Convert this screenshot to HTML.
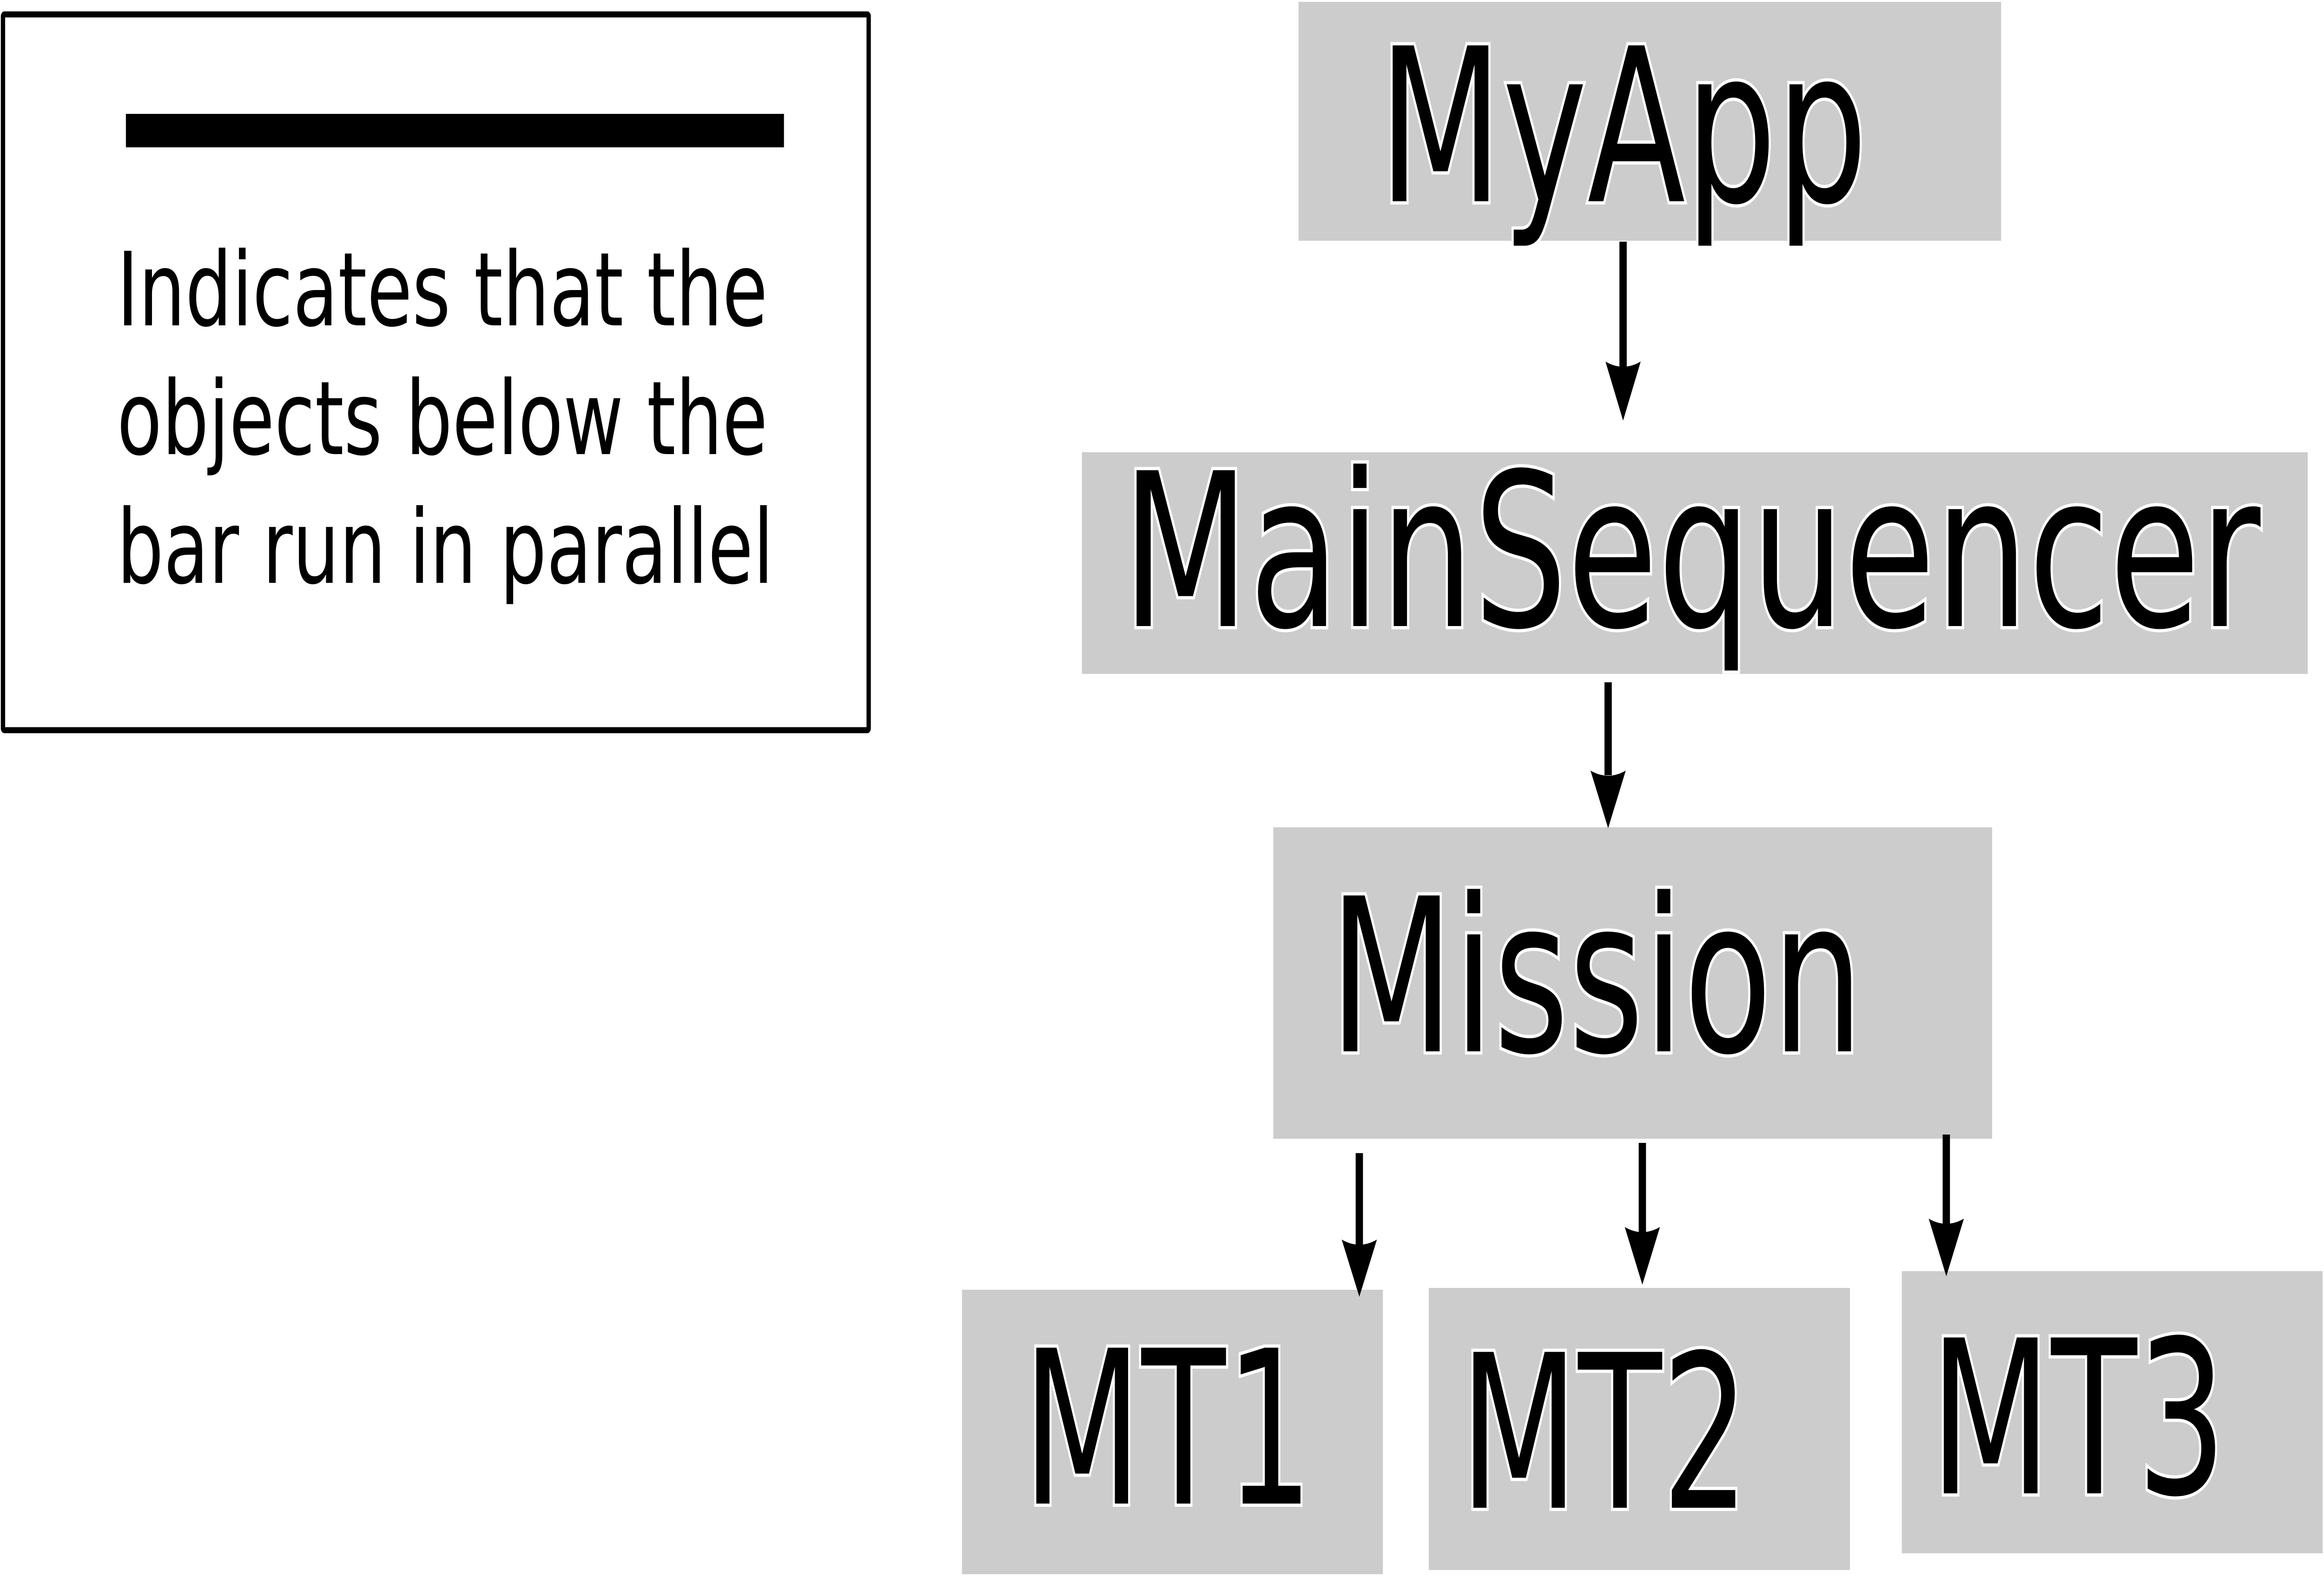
<!DOCTYPE html>
<html><head><meta charset="utf-8"><style>html,body{margin:0;padding:0;background:#fff;overflow:hidden;width:100%;height:100%}svg{display:block;width:100vw;height:100vh}</style></head>
<body>
<svg viewBox="0 0 6996 3393" preserveAspectRatio="none" xmlns="http://www.w3.org/2000/svg">
<rect x="0" y="0" width="6996" height="3393" fill="#fff"/>
<rect x="9" y="31" width="2606" height="1540" fill="#fff" stroke="#000" stroke-width="13" rx="4"/>
<rect x="379" y="245" width="1981" height="72" fill="#000"/>
<g font-family="'DejaVu Sans','Liberation Sans',sans-serif" font-size="220" fill="#000">
<text x="352" y="700" textLength="1959" lengthAdjust="spacingAndGlyphs">Indicates that the</text>
<text x="352" y="977" textLength="1959" lengthAdjust="spacingAndGlyphs">objects below the</text>
<text x="352" y="1254" textLength="1977" lengthAdjust="spacingAndGlyphs">bar run in parallel</text>
</g>
<g fill="#cccccc">
<rect x="3909" y="4" width="2115" height="514"/>
<rect x="3257" y="973" width="3690" height="477"/>
<rect x="3833" y="1780" width="2164" height="670"/>
<rect x="2896" y="2775" width="1267" height="612"/>
<rect x="4301" y="2771" width="1268" height="607"/>
<rect x="5725" y="2735" width="1267" height="607"/>
</g>
<g font-family="'DejaVu Sans','Liberation Sans',sans-serif" font-size="460" fill="#000" stroke="#fff" stroke-width="14" paint-order="stroke">
<text x="4150" y="433" textLength="1472" lengthAdjust="spacingAndGlyphs">MyApp</text>
<text x="3378" y="1347" textLength="3427" lengthAdjust="spacingAndGlyphs">MainSequencer</text>
<text x="4002" y="2262" textLength="1607" lengthAdjust="spacingAndGlyphs">Mission</text>
<text x="3079" y="3235" textLength="874" lengthAdjust="spacingAndGlyphs">MT1</text>
<text x="4395" y="3244" textLength="870" lengthAdjust="spacingAndGlyphs">MT2</text>
<text x="5810" y="3213" textLength="892" lengthAdjust="spacingAndGlyphs">MT3</text>
</g>
<g fill="#000">
<rect x="4875" y="520" width="22" height="280"/>
<path d="M4833 778 Q4886 800 4939 778 L4886 905 Z"/>
<rect x="4830" y="1468" width="22" height="200"/>
<path d="M4788 1658 Q4841 1680 4894 1658 L4841 1782 Z"/>
<rect x="4081" y="2481" width="22" height="200"/>
<path d="M4039 2667 Q4092 2689 4145 2667 L4092 2790 Z"/>
<rect x="4933" y="2459" width="22" height="200"/>
<path d="M4891 2640 Q4944 2662 4997 2640 L4944 2764 Z"/>
<rect x="5848" y="2441" width="22" height="200"/>
<path d="M5806 2622 Q5859 2644 5912 2622 L5859 2746 Z"/>
</g>
</svg>
</body></html>
